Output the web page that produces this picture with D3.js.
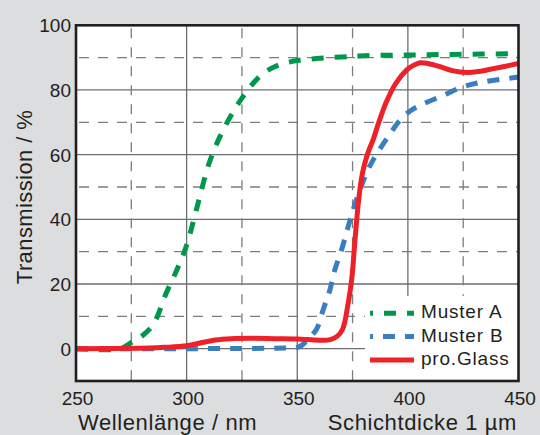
<!DOCTYPE html>
<html><head><meta charset="utf-8">
<script src="https://cdn.jsdelivr.net/npm/d3@7"></script>
<style>
html,body{margin:0;padding:0;background:#dcdddf;}
svg{display:block;font-family:"Liberation Sans",Arial,Helvetica,sans-serif;}
</style></head>
<body>
<svg id="c" width="540" height="435"></svg>
<script>
// ---- data ----
const xTicks = [250, 300, 350, 400, 450];
const yTicks = [0, 20, 40, 60, 80, 100];
const xGridSolid = [300, 350, 400];
const xGridDashed = [275, 325, 375, 425];
const yGridSolid = [0, 20, 40, 60, 80];
const yGridDashed = [10, 30, 50, 70, 90];

const musterA = [[250,0],[270,0],[275,1.9],[280,4],[285,7.6],[291,17.5],[296,25],[300,32],[305,44.5],[310,57],[315,65.5],[320,72],[325,77.5],[330,82],[335,85.3],[342,87.8],[350,89.1],[360,89.8],[370,90.2],[380,90.6],[400,90.8],[420,91],[450,91.2]];
const musterB = [[250,0],[300,0],[345,0.2],[350,0.4],[352,1],[355,3],[358.7,6],[361.7,12],[364.7,18],[367,24.4],[370,30.5],[373,37.7],[375.3,43],[378.3,49],[381.4,54.5],[384,58],[387.4,61.8],[392,66.5],[396.5,70.7],[401,73.5],[405.6,75.3],[414.6,77.9],[425,81],[435,82.6],[450,84]];
const proGlass = [[250,0],[283,0.2],[290,0.4],[300,0.9],[307,1.9],[313,2.7],[320,3.1],[330,3.2],[340,3.1],[350,3],[360,2.6],[365,2.8],[368,3.8],[370.5,6],[373,14],[374.6,21.3],[376.1,33.6],[377.6,45],[379,52.5],[380.4,57],[382.2,61],[384.4,64.8],[387,70.3],[390.4,76.5],[394.5,82],[399.5,86.2],[402.5,87.6],[405.6,88.4],[409,88.2],[414.6,87.2],[420,86],[426.7,85.4],[432,85.7],[437.3,86.4],[443,87.2],[450,88.2]];

const seriesNames = ["Muster A", "Muster B", "pro.Glass"];
const seriesColors = ["#00974b", "#3a7ec0", "#ee2128"];
const seriesData = [musterA, musterB, proGlass];
const seriesDash = ["12,11", "12,10", null];

const xTitle = "Wellenlänge / nm";
const xTitle2 = "Schichtdicke 1 \u00b5m";
const yTitle = "Transmission / %";

// ---- layout ----
const L = 76, R = 518.5, T = 25.3, B = 381;
const svg = d3.select("#c");
const x = d3.scaleLinear().domain([250, 450]).range([L, R]);
const y = d3.scaleLinear().domain([-10, 100]).range([B, T]);
const ink = "#231f20";

svg.append("rect").attr("x", L).attr("y", T).attr("width", R - L).attr("height", B - T).attr("fill", "#fff");

const grid = svg.append("g");
grid.selectAll(".hs").data(yGridSolid).join("line")
  .attr("x1", L).attr("x2", R).attr("y1", d => y(d)).attr("y2", d => y(d))
  .attr("stroke", "#6d6e71").attr("stroke-width", 1.3);
grid.selectAll(".hd").data(yGridDashed).join("line")
  .attr("x1", L).attr("x2", R).attr("y1", d => y(d)).attr("y2", d => y(d))
  .attr("stroke", "#7d7d7f").attr("stroke-width", 1.3).attr("stroke-dasharray", "10,9").attr("stroke-dashoffset", -3);
grid.selectAll(".vs").data(xGridSolid).join("line")
  .attr("x1", d => x(d)).attr("x2", d => x(d)).attr("y1", T).attr("y2", B)
  .attr("stroke", "#6d6e71").attr("stroke-width", 1.3);
grid.selectAll(".vd").data(xGridDashed).join("line")
  .attr("x1", d => x(d)).attr("x2", d => x(d)).attr("y1", T).attr("y2", B)
  .attr("stroke", "#7d7d7f").attr("stroke-width", 1.3).attr("stroke-dasharray", "10,9").attr("stroke-dashoffset", -3);

const line = d3.line().x(d => x(d[0])).y(d => y(d[1])).curve(d3.curveCatmullRom.alpha(0.5));
seriesData.forEach((s, i) => {
  svg.append("path").datum(s).attr("d", line)
    .attr("fill", "none").attr("stroke", seriesColors[i]).attr("stroke-width", 5)
    .attr("stroke-dasharray", seriesDash[i]);
});

// legend
const lg = svg.append("g");
lg.append("rect").attr("x", 365).attr("y", 296).attr("width", R - 365).attr("height", B - 296).attr("fill", "#fff");
seriesNames.forEach((n, i) => {
  const yy = 313.3 + i * 23.3;
  lg.append("line").attr("x1", 370).attr("x2", 414).attr("y1", yy).attr("y2", yy)
    .attr("stroke", seriesColors[i]).attr("stroke-width", 5)
    .attr("stroke-dasharray", seriesDash[i]).attr("stroke-dashoffset", seriesDash[i] ? 9 : 0);
  lg.append("text").attr("x", 421).attr("y", yy + 5).attr("font-size", 19)
    .attr("letter-spacing", 0.8).attr("fill", ink).text(n);
});

// frame
svg.append("rect").attr("x", L).attr("y", T).attr("width", R - L).attr("height", B - T)
  .attr("fill", "none").attr("stroke", ink).attr("stroke-width", 2.6);

// axes (labels only)
const xa = svg.append("g").attr("transform", `translate(1,${B})`)
  .call(d3.axisBottom(x).tickValues(xTicks).tickSize(0).tickPadding(0).tickFormat(d3.format("d")));
xa.select(".domain").remove();
xa.selectAll("text").attr("y", 24).attr("dy", 0).attr("font-size", 19).attr("fill", ink).attr("font-family", null);

const ya = svg.append("g").attr("transform", `translate(${L - 5},0)`)
  .call(d3.axisLeft(y).tickValues(yTicks).tickSize(0).tickPadding(0).tickFormat(d3.format("d")));
ya.select(".domain").remove();
ya.selectAll("text").attr("dy", "0.35em").attr("font-size", 19).attr("fill", ink).attr("font-family", null);

svg.append("text").attr("x", 78).attr("y", 430).attr("font-size", 22).attr("letter-spacing", 0.6)
  .attr("fill", ink).text(xTitle);
svg.append("text").attr("x", 517).attr("y", 430).attr("font-size", 22).attr("letter-spacing", 0.6)
  .attr("text-anchor", "end").attr("fill", ink).text(xTitle2);
svg.append("text").attr("transform", "translate(31.5,197) rotate(-90)").attr("font-size", 22)
  .attr("letter-spacing", 0.4).attr("text-anchor", "middle").attr("fill", ink).text(yTitle);
</script>
</body></html>
